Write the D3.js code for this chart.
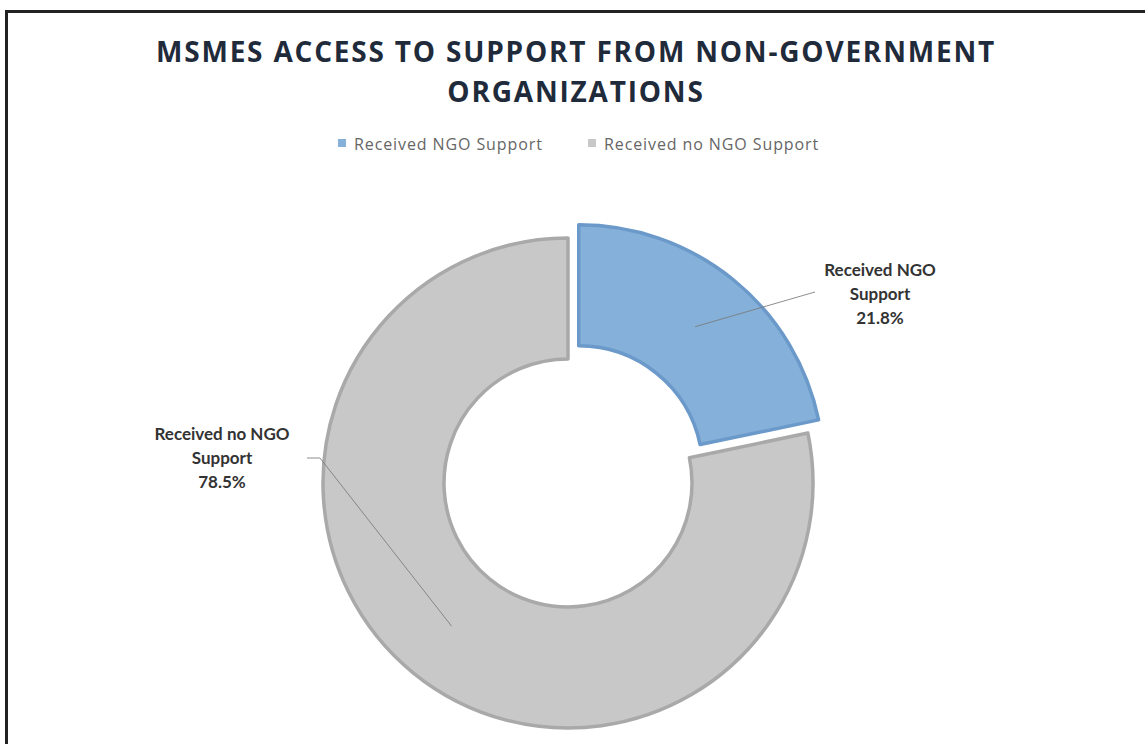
<!DOCTYPE html>
<html><head><meta charset="utf-8">
<script src="https://cdn.jsdelivr.net/npm/d3@7"></script>
<style>html,body{margin:0;padding:0;background:#fff;overflow:hidden}</style>
</head><body>
<svg id="chart" width="1145" height="744"></svg>
<script>
// ---- data ----
const categories = ["Received NGO Support", "Received no NGO Support"];
const values = [21.8, 78.5];
const labelLines = [["Received NGO", "Support", "21.8%"], ["Received no NGO", "Support", "78.5%"]];
const titleLines = ["MSMES ACCESS TO SUPPORT FROM NON-GOVERNMENT", "ORGANIZATIONS"];

const fills = ["#84B0D9", "#C8C8C8"];
const strokes = ["#6B99C9", "#A9A9A9"];

const svg = d3.select("#chart");

// frame
svg.append("path")
  .attr("d", "M6.5,744 L6.5,11.5 L1145,11.5")
  .attr("fill", "none").attr("stroke", "#222").attr("stroke-width", 3);

// title
svg.append("g").selectAll("text").data(titleLines).join("text")
  .attr("x", 576).attr("y", (d, i) => 62 + i * 40)
  .attr("text-anchor", "middle")
  .attr("font-family", "'Open Sans', sans-serif").attr("font-weight", 700)
  .attr("font-size", 28).attr("letter-spacing", 1.8).attr("fill", "#1F2B3B")
  .text(d => d);

// legend
const legend = svg.append("g").attr("font-family", "'Open Sans', sans-serif").attr("font-size", 16)
  .attr("letter-spacing", 0.9).attr("fill", "#666");
const legX = [338, 588];
categories.forEach((c, i) => {
  legend.append("rect").attr("x", legX[i]).attr("y", 139).attr("width", 8).attr("height", 8).attr("fill", fills[i]);
  legend.append("text").attr("x", legX[i] + 16).attr("y", 149.5).text(c);
});

// donut
const cx = 568, cy = 483, R = 245, r = 124, explode = 17;
const pie = d3.pie().sort(null).value(d => d);
const arcs = pie(values);
const arc = d3.arc().innerRadius(r).outerRadius(R);
const offsets = arcs.map((a, i) => {
  if (i !== 0) return [0, 0];
  const m = (a.startAngle + a.endAngle) / 2;
  return [explode * Math.sin(m), -explode * Math.cos(m)];
});
const g = svg.append("g").attr("transform", `translate(${cx},${cy})`);
g.selectAll("path").data(arcs).join("path")
  .attr("transform", (d, i) => `translate(${offsets[i][0]},${offsets[i][1]})`)
  .attr("d", arc)
  .attr("fill", (d, i) => fills[i])
  .attr("stroke", (d, i) => strokes[i])
  .attr("stroke-width", 3.5)
  .attr("stroke-linejoin", "round");

// leader lines & labels
const labelPos = [[880, 276], [222, 440]];
const leaderEnd = [[[815, 292]], [[307, 458], [320, 458]]];
arcs.forEach((a, i) => {
  const c = arc.centroid(a);
  const start = [cx + c[0] + offsets[i][0], cy + c[1] + offsets[i][1]];
  const pts = [start, ...leaderEnd[i].slice().reverse()];
  svg.append("path")
    .attr("d", d3.line()(pts))
    .attr("fill", "none").attr("stroke", "#7A7A7A").attr("stroke-width", 1)
    .attr("opacity", 0.85);
});
arcs.forEach((a, i) => {
  svg.append("g").selectAll("text").data(labelLines[i]).join("text")
    .attr("x", labelPos[i][0]).attr("y", (d, k) => labelPos[i][1] + k * 24)
    .attr("text-anchor", "middle")
    .attr("font-family", "Lato, sans-serif").attr("font-weight", 700)
    .attr("font-size", 17).attr("fill", "#333")
    .text(d => d);
});
</script>
</body></html>
